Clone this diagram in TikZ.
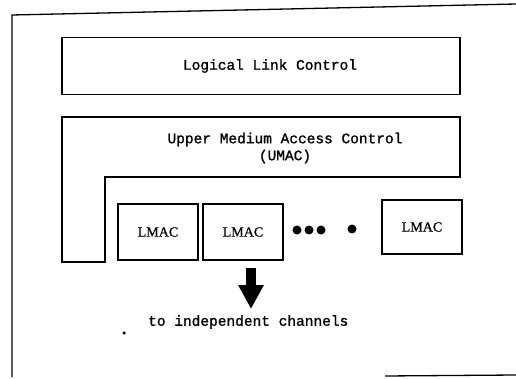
\documentclass[tikz,border=0pt]{standalone}
\usepackage{fontspec}
\usepackage{tikz}
\usetikzlibrary{arrows.meta}
\setmainfont{Liberation Serif}
\newfontfamily\typefont[FakeBold=1.2]{Liberation Mono}
\newfontfamily\boxfont[FakeBold=0.8]{Liberation Serif}

\tikzset{
  layerbox/.style={draw, line width=1.3pt, minimum width=398pt, minimum height=57pt, inner sep=0pt, font=\typefont\fontsize{14.5}{17}\selectfont},
  lmacbox/.style={draw, line width=1.3pt, minimum width=80pt, minimum height=56pt, inner sep=0pt, font=\boxfont\fontsize{14}{16}\selectfont},
  label/.style={inner sep=0pt, font=\typefont\fontsize{14.5}{17}\selectfont, align=center},
  blob/.style={circle, fill=black, inner sep=0pt, minimum size=9pt}
}

\begin{document}
\begin{tikzpicture}[x=1pt,y=-1pt]
\useasboundingbox (0,0) rectangle (516,379);
% outer frame
\draw[line width=1.3pt] (516,4) -- (12,15) -- (12,377);
\draw[line width=1.3pt] (385,376) -- (516,375);

% LLC
\node[layerbox] (llc) at (261,66) {};
\node[label] (llctext) at (270,66) {Logical Link Control};

% UMAC outline
\draw[line width=1.3pt] (62,117) -- (460,117) -- (460,177) -- (105,177) -- (105,262) -- (62,262) -- cycle;
\node[label] (umac) at (285,148) {Upper Medium Access Control\\(UMAC)};

% LMACs
\node[lmacbox] (lmac1) at (158,232) {LMAC};
\node[lmacbox] (lmac2) at (243,232) {LMAC};
\node[lmacbox, minimum height=54pt] (lmac3) at (422,227) {LMAC};
\node[blob] (d1) at (297,230) {};
\node[blob] (d2) at (309,230) {};
\node[blob] (d3) at (321,230) {};
\node[blob] (d4) at (352,229) {};

% arrow
\coordinate (atop) at (251,268);
\coordinate (abot) at (251,309);
\draw[line width=10pt, -{Triangle[length=24pt, width=24pt]}] (atop) -- (abot);

\node[label, anchor=west] (chan) at (148,322) {to independent channels};
\node[circle, fill=black, inner sep=0pt, minimum size=3.5pt] (spot) at (124,333) {};
\end{tikzpicture}
\end{document}
